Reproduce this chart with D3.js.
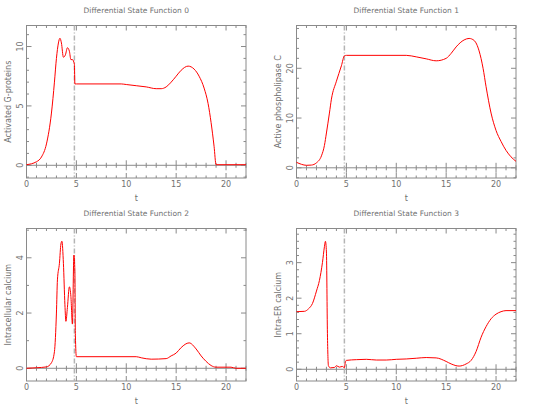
<!DOCTYPE html>
<html>
<head>
<meta charset="utf-8">
<script src="https://cdn.jsdelivr.net/npm/d3@7"></script>
<style>
  body { margin: 0; background: #fff; }
  svg { display: block; }
  text { font-family: "DejaVu Sans", sans-serif; fill: #707070; }
</style>
</head>
<body>
<div id="chart"></div>
<script>
const W = 542, H = 407;

// Differential State Function 0 — Activated G-proteins
const t0 = [0, 1, 1.5, 2, 2.5, 2.8, 3.0, 3.2, 3.35, 3.5, 3.7, 3.9, 4.1, 4.3, 4.45, 4.6, 4.8, 4.85, 5, 9.5, 10, 11, 12, 13, 13.5, 14, 14.5, 15, 15.5, 16.2, 16.8, 17.3, 17.8, 18.2, 18.5, 18.8, 19.0, 22];
const y0 = [0.05, 0.3, 0.7, 1.8, 4.4, 7, 9, 10.3, 10.7, 10.3, 9.1, 9.3, 9.9, 9.6, 8.9, 8.9, 8.5, 6.85, 6.85, 6.85, 6.8, 6.7, 6.6, 6.45, 6.45, 6.6, 7.0, 7.5, 8.0, 8.35, 8.1, 7.5, 6.5, 5.2, 3.6, 1.6, 0.05, 0.05];

// Differential State Function 1 — Active phospholipase C
const t1 = [0, 0.5, 1, 1.5, 2, 2.5, 2.8, 3.0, 3.3, 3.5, 4.0, 4.5, 4.8, 5, 11, 12, 13, 14, 15, 15.5, 16, 16.8, 17.3, 17.8, 18.3, 18.7, 19.0, 19.5, 20, 20.5, 21, 21.5, 22];
const y1 = [1.1, 0.7, 0.5, 0.55, 1.0, 2.4, 4.5, 7, 11, 13.8, 17.4, 20.5, 22.5, 22.6, 22.6, 22.3, 21.9, 21.5, 22.0, 23, 24.3, 25.7, 26.0, 25.6, 23.5, 20, 16.3, 11, 7.5, 5.3, 3.5, 2.2, 1.3];

// Differential State Function 2 — Intracellular calcium
const t2 = [0, 1, 2, 2.5, 2.8, 3.0, 3.1, 3.3, 3.45, 3.55, 3.7, 3.85, 3.95, 4.1, 4.3, 4.45, 4.6, 4.75, 4.85, 4.9, 5.0, 11, 11.5, 12.5, 14, 14.5, 15, 15.5, 16.3, 17, 17.5, 18, 18.5, 19, 20.5, 21, 22];
const y2 = [0, 0.02, 0.05, 0.2, 0.6, 2.0, 3.2, 3.8, 4.5, 4.6, 3.8, 2.3, 1.7, 2.2, 2.95, 2.6, 1.6, 4.1, 3.5, 1.2, 0.42, 0.42, 0.38, 0.33, 0.35, 0.45, 0.55, 0.75, 0.92, 0.7, 0.45, 0.25, 0.1, 0.04, 0.04, 0.0, 0.0];

// Differential State Function 3 — Intra-ER calcium
const t3 = [0, 0.8, 1.2, 1.6, 2.0, 2.3, 2.6, 2.8, 2.9, 3.0, 3.1, 3.2, 3.4, 3.8, 4.0, 4.3, 4.6, 4.8, 4.9, 5.0, 6, 7, 8, 9, 10, 11, 12, 13, 14, 15, 15.5, 16.3, 17, 17.5, 18, 18.5, 19, 19.5, 20, 20.5, 21, 22];
const y3 = [1.62, 1.63, 1.7, 1.85, 2.2, 2.5, 3.0, 3.45, 3.6, 3.3, 1.0, 0.1, 0.04, 0.05, 0.1, 0.06, 0.08, 0.04, 0.2, 0.25, 0.27, 0.28, 0.26, 0.26, 0.28, 0.29, 0.31, 0.33, 0.32, 0.22, 0.15, 0.09, 0.15, 0.25, 0.5, 0.9, 1.2, 1.42, 1.55, 1.62, 1.65, 1.65];

const titles = ["Differential State Function 0", "Differential State Function 1", "Differential State Function 2", "Differential State Function 3"];
const ylabels = ["Activated G-proteins", "Active phospholipase C", "Intracellular calcium", "Intra-ER calcium"];
const xTicks = [0, 5, 10, 15, 20];
const markerT = 4.8;

const panels = [
  {t: t0, y: y0, dom: [-1.07, 11.77], major: 5, minor: 1, left: 26.5, top: 25.5},
  {t: t1, y: y1, dom: [-2.05, 28.6], major: 10, minor: 2, left: 296.5, top: 25.5},
  {t: t2, y: y2, dom: [-0.46, 5.06], major: 2, minor: 1, left: 26.5, top: 228.5},
  {t: t3, y: y3, dom: [-0.33, 3.96], major: 1, minor: 0.2, left: 296.5, top: 228.5}
];
const pw = 219.5, ph = 152.5;

const svg = d3.select("#chart").append("svg").attr("width", W).attr("height", H);

function range(a, b, s) {
  const out = [];
  for (let v = Math.ceil(a / s - 1e-9) * s; v <= b + 1e-9; v += s) out.push(+v.toFixed(6));
  return out;
}

panels.forEach((p, i) => {
  const x = d3.scaleLinear().domain([0, 22]).range([0, pw]);
  const y = d3.scaleLinear().domain(p.dom).range([ph, 0]);
  const g = svg.append("g").attr("transform", `translate(${p.left},${p.top})`);
  const col = "#8a8a8a";

  g.append("rect").attr("width", pw).attr("height", ph)
    .attr("fill", "none").attr("stroke", col).attr("stroke-width", 1);

  // x ticks top and bottom, plus on the zero axis
  range(0, 22, 1).forEach(v => {
    const len = v % 5 === 0 ? 5 : 2.5;
    g.append("line").attr("x1", x(v)).attr("x2", x(v)).attr("y1", ph).attr("y2", ph - len).attr("stroke", col);
    g.append("line").attr("x1", x(v)).attr("x2", x(v)).attr("y1", 0).attr("y2", len).attr("stroke", col);
    g.append("line").attr("x1", x(v)).attr("x2", x(v)).attr("y1", y(0) - len).attr("y2", y(0) + len).attr("stroke", col);
  });
  // y ticks left and right
  range(p.dom[0], p.dom[1], p.minor).forEach(v => {
    const isMajor = Math.abs(v / p.major - Math.round(v / p.major)) < 1e-6;
    const len = isMajor ? 5 : 2.5;
    g.append("line").attr("x1", 0).attr("x2", len).attr("y1", y(v)).attr("y2", y(v)).attr("stroke", col);
    g.append("line").attr("x1", pw).attr("x2", pw - len).attr("y1", y(v)).attr("y2", y(v)).attr("stroke", col);
  });

  // zero axis line
  g.append("line").attr("x1", 0).attr("x2", pw).attr("y1", y(0)).attr("y2", y(0)).attr("stroke", col);

  // x tick labels
  g.selectAll(".xl").data(xTicks).join("text")
    .attr("x", d => x(d)).attr("y", ph + 9)
    .attr("text-anchor", "middle").attr("font-size", 8).text(d => d);

  // y tick labels (rotated)
  g.selectAll(".yl").data(range(0, p.dom[1], p.major)).join("text")
    .attr("transform", d => `translate(-4,${y(d)}) rotate(-90)`)
    .attr("text-anchor", "middle").attr("font-size", 8).text(d => d);

  // title and axis labels
  g.append("text").attr("x", pw / 2).attr("y", -13).attr("text-anchor", "middle")
    .attr("font-size", 7.5).text(titles[i]);
  g.append("text").attr("x", pw / 2).attr("y", ph + 23).attr("text-anchor", "middle")
    .attr("font-size", 8).text("t");
  g.append("text").attr("transform", `translate(-16,${ph / 2}) rotate(-90)`)
    .attr("text-anchor", "middle").attr("font-size", 8).text(ylabels[i]);

  // dash-dot marker line
  g.append("line").attr("x1", x(markerT)).attr("x2", x(markerT)).attr("y1", 0).attr("y2", ph)
    .attr("stroke", "#b4b4b4").attr("stroke-width", 1.5).attr("stroke-dasharray", "5,2,1,2");

  const line = d3.line().x((d, k) => x(p.t[k])).y(d => y(d)).curve(d3.curveMonotoneX);
  g.append("path").attr("d", line(p.y)).attr("fill", "none")
    .attr("stroke", "#ff0000").attr("stroke-width", 1);
});
</script>
</body>
</html>
